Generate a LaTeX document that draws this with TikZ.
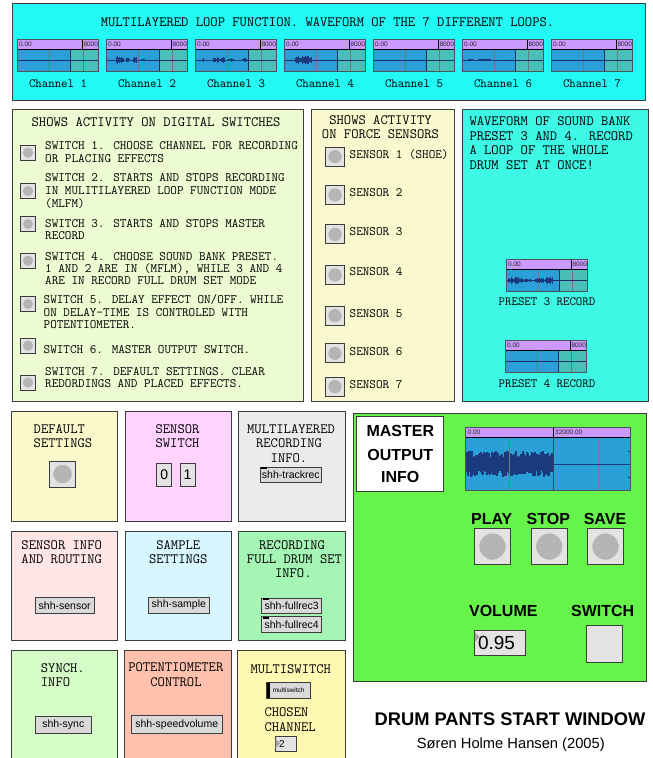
\documentclass[tikz,border=0pt]{standalone}
\usepackage{fontspec}
\setmainfont{Liberation Sans}
\newcommand\mono{\ttfamily}
\newfontfamily\sans{Liberation Sans}
\definecolor{topcyan}{HTML}{22F8F4}
\definecolor{precyan}{HTML}{3EF8E6}
\definecolor{swgreen}{HTML}{EDFBD2}
\definecolor{senyel}{HTML}{FAF8CE}
\definecolor{bordc}{HTML}{3C3C3C}
\definecolor{wpurp}{HTML}{CC99FF}
\definecolor{wblue}{HTML}{2A9FD8}
\definecolor{wteal}{HTML}{48BFB8}
\definecolor{wdark}{HTML}{1B3A7E}
\definecolor{wgridc}{HTML}{6A7A80}
\definecolor{btnbg}{HTML}{E3E3E3}
\definecolor{btncirc}{HTML}{B5B5B5}
\definecolor{mgreen}{HTML}{66F44A}
\definecolor{cA}{HTML}{FBF8CC}
\definecolor{cB}{HTML}{FFD2FF}
\definecolor{cC}{HTML}{EBEBEB}
\definecolor{cD}{HTML}{FFE6E6}
\definecolor{cE}{HTML}{D7F6FF}
\definecolor{cF}{HTML}{A5F5B5}
\definecolor{cG}{HTML}{D6FCC8}
\definecolor{cH}{HTML}{FFC1AD}
\definecolor{cI}{HTML}{FFF8B2}
\definecolor{sboxc}{HTML}{DADADA}
\newcommand\wblob[4]{\foreach \k in {#1,...,#2}{\pgfmathsetmacro\hh{#4*(0.35+0.65*rnd)}\draw[wdark,line width=1pt] (\k,{#3-\hh}) -- (\k,{#3+\hh});}}
\tikzset{
  panel/.style={draw=bordc, line width=0.9pt},
  mtitle/.style={font=\mono\fontsize{14.2}{16}\selectfont, inner sep=0pt, text height=8.6pt, text depth=0pt},
  mbody/.style={font=\mono\fontsize{12.8}{14}\selectfont, inner sep=0pt, text height=7.8pt, text depth=0pt, anchor=west},
  chlab/.style={font=\mono\fontsize{12.5}{14}\selectfont, inner sep=0pt, text height=7.6pt, text depth=0pt},
  hdr/.style={font=\sans\fontsize{6.5}{7}\selectfont, inner sep=0pt, text=black!85, anchor=west},
  bigb/.style={font=\sans\bfseries\fontsize{16}{18}\selectfont, inner sep=0pt, text height=11.5pt, text depth=0pt},
  sbox/.style={draw=bordc, fill=sboxc, line width=0.8pt, inner sep=0pt, font=\sans\fontsize{10.5}{12}\selectfont},
  numbox/.style={draw=bordc, fill=btnbg, line width=0.8pt, inner sep=0pt, font=\sans\fontsize{14}{16}\selectfont},
  pbtn/.pic={
    \fill[btnbg] (0,0) rectangle (#1,#1);
    \fill[btncirc] ({#1/2},{#1/2}) circle[radius={#1*0.37pt}];
    \draw[white!80!gray, line width=0.5pt] ({#1/2},{#1/2}) circle[radius={#1*0.37pt}];
    \draw[bordc, line width=0.8pt] (0,0) rectangle (#1,#1);
  },
  loopw/.pic={
    \fill[wpurp] (0,0) rectangle (81,10);
    \fill[wblue] (0,10) rectangle (53,32);
    \fill[wteal] (53,10) rectangle (81,32);
    \draw[wgridc, line width=0.7pt] (32,10)--(32,32) (66,10)--(66,32);
    \draw[wdark!80!black, line width=0.8pt] (0,21)--(81,21) (53,10)--(53,32);
    \draw[black, line width=0.7pt] (65,0)--(65,10) (0,10)--(81,10);
    \node[hdr] (lo) at (1.5,5) {0.00};
    \begin{scope}
      \clip (65,0) rectangle (81,10);
      \node[hdr] (hi) at (65.8,5) {8000};
    \end{scope}
    \draw[wgridc!70!black, line width=0.9pt] (0,0) rectangle (81,32);
  }
}
\begin{document}
\begin{tikzpicture}[x=1pt,y=-1pt]
\useasboundingbox (0,0) rectangle (653,758);
\fill[white] (0,0) rectangle (653,758);
\pgfmathsetseed{11}
% ---------------- top panel
\draw[panel, fill=topcyan] (12.5,3) rectangle (645.5,100);
\node[mtitle] (toptitle) at (327.5,22) {MULTILAYERED LOOP FUNCTION. WAVEFORM OF THE 7 DIFFERENT LOOPS.};
\foreach \i in {1,...,7}{
  \pgfmathsetmacro\xx{17.5+89*(\i-1)}
  \pic (ch\i) at (\xx,39) {loopw};
  \node[chlab] (chl\i) at (\xx+40.5,84) {Channel \i};
}
% channel 2 blobs
\draw[wdark, line width=0.8pt] (114,60)--(146,60);
\wblob{116}{123}{60}{4}
\wblob{126}{129}{60}{3}
\wblob{133}{136}{60}{3.5}
\wblob{141}{144}{60}{1.5}
% channel 3
\draw[wdark, line width=0.8pt] (201,60)--(247,60);
\wblob{202}{203}{60}{2}
\wblob{213}{224}{60}{3}
\wblob{228}{233}{60}{2.5}
\wblob{242}{246}{60}{3}
% channel 4
\wblob{295}{311}{60}{4.5}
% channel 6
\draw[wdark, line width=0.8pt] (465,60)--(500,60);
\wblob{468}{472}{60}{1.5}
\wblob{478}{490}{60}{1.5}
% ---------------- switches panel
\draw[panel, fill=swgreen] (12.5,109.5) rectangle (303.5,401);
\node[mtitle] (swtitle) at (156,121.7) {SHOWS ACTIVITY ON DIGITAL SWITCHES};
\pic (sb1) at (20.5,145.2) {pbtn=15};
\pic (sb2) at (20.5,183.5) {pbtn=15};
\pic (sb3) at (20.5,216.5) {pbtn=15};
\pic (sb4) at (20.5,253.2) {pbtn=15};
\pic (sb5) at (20.5,296.5) {pbtn=15};
\pic (sb6) at (20.5,338.2) {pbtn=15};
\pic (sb7) at (20.5,375) {pbtn=15};
\node[mbody] (s1a) at (45,146) {SWITCH 1. CHOOSE CHANNEL FOR RECORDING};
\node[mbody] (s1b) at (45,158.3) {OR PLACING EFFECTS};
\node[mbody] (s2a) at (45,177.7) {SWITCH 2. STARTS AND STOPS RECORDING};
\node[mbody] (s2b) at (45,191) {IN MULITILAYERED LOOP FUNCTION MODE};
\node[mbody] (s2c) at (45,204) {(MLFM)};
\node[mbody] (s3a) at (45,223.3) {SWITCH 3. STARTS AND STOPS MASTER};
\node[mbody] (s3b) at (45,235.5) {RECORD};
\node[mbody] (s4a) at (45,256.2) {SWITCH 4. CHOOSE SOUND BANK PRESET.};
\node[mbody] (s4b) at (45,268.3) {1 AND 2 ARE IN (MFLM), WHILE 3 AND 4};
\node[mbody] (s4c) at (45,280.4) {ARE IN RECORD FULL DRUM SET MODE};
\node[mbody] (s5a) at (43.5,300) {SWITCH 5. DELAY EFFECT ON/OFF. WHILE};
\node[mbody] (s5b) at (43.5,312.3) {ON DELAY-TIME IS CONTROLED WITH};
\node[mbody] (s5c) at (43.5,325) {POTENTIOMETER.};
\node[mbody] (s6a) at (43.5,350) {SWITCH 6. MASTER OUTPUT SWITCH.};
\node[mbody] (s7a) at (45,371.3) {SWITCH 7. DEFAULT SETTINGS. CLEAR};
\node[mbody] (s7b) at (45,383.6) {REDORDINGS AND PLACED EFFECTS.};
% ---------------- sensors panel
\draw[panel, fill=senyel] (311.5,109.5) rectangle (454,401);
\node[mtitle] (sent1) at (380.5,120) {SHOWS ACTIVITY};
\node[mtitle] (sent2) at (380.5,134.3) {ON FORCE SENSORS};
\pic (se1) at (325.5,147.2) {pbtn=19};
\pic (se2) at (325.5,185.5) {pbtn=19};
\pic (se3) at (325.5,224.8) {pbtn=19};
\pic (se4) at (325.5,265.5) {pbtn=19};
\pic (se5) at (325.5,306.2) {pbtn=19};
\pic (se6) at (325.5,343.8) {pbtn=19};
\pic (se7) at (325.5,377.2) {pbtn=19};
\node[mbody] (sl1) at (349.5,154.3) {SENSOR 1 (SHOE)};
\node[mbody] (sl2) at (349.5,192.3) {SENSOR 2};
\node[mbody] (sl3) at (349.5,231.7) {SENSOR 3};
\node[mbody] (sl4) at (349.5,271.7) {SENSOR 4};
\node[mbody] (sl5) at (349.5,313.3) {SENSOR 5};
\node[mbody] (sl6) at (349.5,351.7) {SENSOR 6};
\node[mbody] (sl7) at (349.5,384.3) {SENSOR 7};
% ---------------- preset panel
\draw[panel, fill=precyan] (462.5,109.5) rectangle (648,401);
\node[mtitle, anchor=west] (pr1) at (469.3,120.7) {WAVEFORM OF SOUND BANK};
\node[mtitle, anchor=west] (pr2) at (469.3,135.7) {PRESET 3 AND 4. RECORD};
\node[mtitle, anchor=west] (pr3) at (469.3,150) {A LOOP OF THE WHOLE};
\node[mtitle, anchor=west] (pr4) at (469.3,165) {DRUM SET AT ONCE!};
\pic (p3) at (506.5,259.5) {loopw};
\pic (p4) at (505.5,340.5) {loopw};
\wblob{508}{522}{280.5}{4}
\wblob{524}{530}{280.5}{2}
\wblob{535}{543}{280.5}{3}
\wblob{545}{552}{280.5}{4}
\node[chlab] (p3l) at (547,301.7) {PRESET 3 RECORD};
\node[chlab] (p4l) at (547,383.3) {PRESET 4 RECORD};
% ---------------- bottom boxes row 1
\draw[panel, fill=cA] (11.7,411.7) rectangle (117.7,521);
\draw[panel, fill=cB] (125.3,411.7) rectangle (231,521);
\draw[panel, fill=cC] (238.7,411.7) rectangle (345,521);
\node[mtitle, anchor=west] (at1) at (33.5,429) {DEFAULT};
\node[mtitle, anchor=west] (at2) at (33.5,443.3) {SETTINGS};
\pic (defb) at (49.5,461) {pbtn=26};
\node[mtitle] (bt1) at (177.5,429) {SENSOR};
\node[mtitle] (bt2) at (177.5,443.3) {SWITCH};
\node[numbox, minimum width=15pt, minimum height=23.5pt] (num0) at (164.2,474.8) {0};
\node[numbox, minimum width=15pt, minimum height=23.5pt] (num1) at (187.5,474.8) {1};
\node[mtitle] (ct1) at (291,429) {MULTILAYERED};
\node[mtitle] (ct2) at (289,443.3) {RECORDING};
\node[mtitle] (ct3) at (289,457.7) {INFO.};
\node[sbox, minimum width=61.7pt, minimum height=15pt] (trackrec) at (290.8,474.8) {shh-trackrec};
\fill[black] (261,467.3) rectangle (267,469.3);
% row 2
\draw[panel, fill=cD] (11.7,531) rectangle (117.7,640);
\draw[panel, fill=cE] (125.3,531) rectangle (231,640);
\draw[panel, fill=cF] (238.7,531) rectangle (345,640);
\node[mtitle] (dt1) at (61.7,545) {SENSOR INFO};
\node[mtitle] (dt2) at (61.7,559) {AND ROUTING};
\node[sbox, minimum width=59.3pt, minimum height=15.6pt] (sensorb) at (64.7,605.5) {shh-sensor};
\node[mtitle] (et1) at (178.3,545) {SAMPLE};
\node[mtitle] (et2) at (178.3,559) {SETTINGS};
\node[sbox, minimum width=61pt, minimum height=16pt] (sampleb) at (178.8,605) {shh-sample};
\node[mtitle] (ft1) at (292,545) {RECORDING};
\node[mtitle] (ft2) at (294.5,559) {FULL DRUM SET};
\node[mtitle] (ft3) at (293.3,573) {INFO.};
\node[sbox, minimum width=60pt, minimum height=15.5pt] (full3) at (291.7,605.7) {shh-fullrec3};
\node[sbox, minimum width=60pt, minimum height=16pt] (full4) at (291.7,624.5) {shh-fullrec4};
\fill[black] (262.5,598) rectangle (268.5,600);
\fill[black] (262.5,616.5) rectangle (268.5,618.5);
% row 3
\draw[panel, fill=cG] (11.7,650) rectangle (117.7,770);
\draw[panel, fill=cH] (124.3,650) rectangle (231,770);
\draw[panel, fill=cI] (237.7,650) rectangle (345,770);
\node[mtitle, anchor=west] (gt1) at (40.7,668.3) {SYNCH.};
\node[mtitle, anchor=west] (gt2) at (40.7,682.3) {INFO};
\node[sbox, minimum width=55.3pt, minimum height=17pt] (syncb) at (63.3,724.7) {shh-sync};
\node[mtitle] (ht1) at (175.8,666.7) {POTENTIOMETER};
\node[mtitle] (ht2) at (176,681.7) {CONTROL};
\node[sbox, minimum width=91.3pt, minimum height=18pt] (speedb) at (176.7,724.3) {shh-speedvolume};
\node[mtitle] (it1) at (290.8,669.3) {MULTISWITCH};
\node[sbox, font=\sans\fontsize{6.5}{7}\selectfont, minimum width=44pt, minimum height=15.6pt] (multib) at (288.7,690.5) {multiswitch};
\fill[black] (266.7,682.7) rectangle (269.5,698.3);
\node[mtitle, anchor=west] (it2) at (264.3,711.7) {CHOSEN};
\node[mtitle, anchor=west] (it3) at (264.3,726.7) {CHANNEL};
\node[numbox, font=\sans\fontsize{10}{12}\selectfont, minimum width=21pt, minimum height=15pt, text width=13pt, align=left] (chan) at (285.5,744.2) {2};
\fill[gray!70] (275.5,738.5) -- (280,743.5) -- (275.5,748.5) -- cycle;
% ---------------- master output
\draw[panel, fill=mgreen] (353.3,413.3) rectangle (646.7,681);
\draw[bordc, fill=white, line width=0.9pt] (356.7,416.7) rectangle (443.3,491.7);
\node[bigb] (m1) at (400.3,430.7) {MASTER};
\node[bigb] (m2) at (400.3,454.3) {OUTPUT};
\node[bigb] (m3) at (400.3,476.7) {INFO};
% master wave
\fill[wpurp] (465.7,427.3) rectangle (630.7,437.3);
\fill[wblue] (465.7,437.3) rectangle (630.7,490);
\foreach \k in {466,...,552}{
  \pgfmathsetmacro\ha{6+7*rnd}
  \pgfmathsetmacro\hb{6+7*rnd}
  \draw[wdark, line width=1.1pt] (\k,{463.7-\ha}) -- (\k,{463.7+\hb});
}
\draw[wgridc, line width=0.8pt] (509,437.3)--(509,490) (598.3,437.3)--(598.3,490);
\draw[wgridc!60!black, line width=0.8pt] (553.3,437.3)--(553.3,490);
\draw[wdark, line width=0.8pt] (553.3,464)--(630.7,464);
\draw[wdark, line width=0.6pt] (627.5,451)--(630.7,451) (627.5,477)--(630.7,477);
\draw[black, line width=0.7pt] (553.3,427.3)--(553.3,437.3) (465.7,437.3)--(630.7,437.3);
\node[hdr] (mlo) at (467.5,432.3) {0.00};
\node[hdr] (mhi) at (555,432.3) {32000.00};
\draw[wgridc!70!black, line width=1pt] (465.7,427.3) rectangle (630.7,490);
\node[bigb] (play) at (491.7,518.3) {PLAY};
\node[bigb] (stop) at (548.3,518.3) {STOP};
\node[bigb] (save) at (605,518.3) {SAVE};
\pic (playb) at (474.3,528.3) {pbtn=36.5};
\pic (stopb) at (531,528.3) {pbtn=36.5};
\pic (saveb) at (587.3,528.3) {pbtn=36.5};
\node[bigb] (vol) at (503.3,610.7) {VOLUME};
\node[bigb] (swl) at (602.7,610.7) {SWITCH};
\node[numbox, font=\sans\fontsize{19}{21}\selectfont, minimum width=51.4pt, minimum height=25.7pt, text width=44pt, align=left] (volbox) at (500,642.8) {0.95};
\fill[gray!70] (474.8,632) -- (479.5,637) -- (474.8,642) -- cycle;
\node[numbox, minimum width=36pt, minimum height=37.3pt] (togg) at (604.7,643.7) {};
% ---------------- title
\node[font=\sans\bfseries\fontsize{18.3}{20}\selectfont, inner sep=0pt, text height=13pt, text depth=0pt] (ttl) at (510,719.3) {DRUM PANTS START WINDOW};
\node[font=\sans\fontsize{14.7}{16}\selectfont, inner sep=0pt, text height=10.5pt, text depth=0pt] (auth) at (510.8,743.3) {Søren Holme Hansen (2005)};
\end{tikzpicture}
\end{document}
